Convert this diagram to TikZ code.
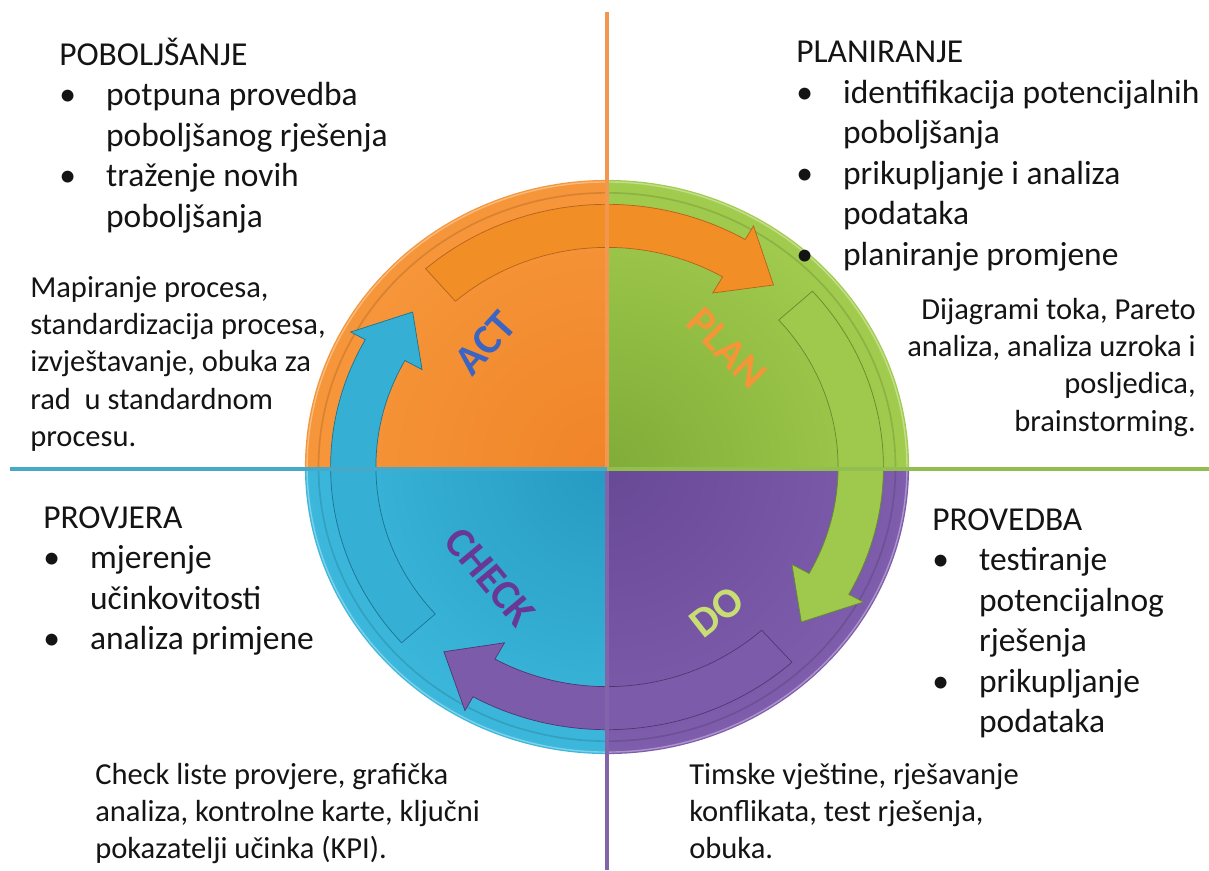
\documentclass[tikz,border=0pt]{standalone}
\usepackage{fontspec}
\setmainfont{Carlito}
\usetikzlibrary{positioning,calc}

\definecolor{actorange}{RGB}{240,132,40}
\definecolor{actrim}{RGB}{246,150,58}
\definecolor{plangreen}{RGB}{128,172,56}
\definecolor{planrim}{RGB}{162,204,78}
\definecolor{dopurple}{RGB}{104,73,150}
\definecolor{dorim}{RGB}{127,93,173}
\definecolor{checkblue}{RGB}{38,154,194}
\definecolor{checkrim}{RGB}{60,184,220}
\definecolor{actline}{RGB}{242,150,80}
\definecolor{planline}{RGB}{146,190,80}
\definecolor{doline}{RGB}{130,100,170}
\definecolor{checkline}{RGB}{72,168,200}
\definecolor{actlabel}{RGB}{60,100,195}
\definecolor{planlabel}{RGB}{244,150,55}
\definecolor{dolabel}{RGB}{200,222,115}
\definecolor{checklabel}{RGB}{105,55,150}

\newcommand{\bigtxt}{\fontsize{23.8pt}{28.8pt}\selectfont}
\newcommand{\smalltxt}{\fontsize{21.7pt}{26.5pt}\selectfont}
\newcommand{\bl}{\makebox[1.4em][l]{\textbullet}}
\newcommand{\ind}{\hspace*{1.4em}}
\newcommand{\topstrut}{\rule{0pt}{0.95em}}

% ring arrow: tail angle, fill, edge
\newcommand{\ringarrow}[3]{%
  \pgfmathsetmacro{\arrbase}{#1-71}%
  \pgfmathsetmacro{\arrtip}{#1-82}%
  \filldraw[fill=#2, draw=#3, line width=0.5pt]
    (#1:0.765) arc[start angle=#1, end angle=\arrbase, radius=0.765]
    -- (\arrbase:0.70) -- (\arrtip:0.84) -- (\arrbase:0.97) -- (\arrbase:0.915)
    arc[start angle=\arrbase, end angle=#1, radius=0.915] -- cycle;}

\begin{document}
\begin{tikzpicture}[x=0.025cm, y=-0.025cm,
    txtblk/.style={anchor=north west, inner sep=0pt, align=left, text=black!92},
    txtright/.style={anchor=north east, inner sep=0pt, align=right, text=black!92},
    lbl/.style={inner sep=0pt, font=\fontsize{30pt}{36pt}\selectfont\bfseries},
    axisline/.style={line width=2.4pt}]
    \useasboundingbox (0,0) rectangle (1209,870);
    \fill[white] (0,0) rectangle (1209,870);

    \coordinate (ctr) at (607,467);
    \coordinate (ntop) at (607,12);
    \coordinate (sbot) at (607,870);
    \coordinate (hmid) at (607,469);
    \coordinate (wend) at (10,469);
    \coordinate (eend) at (1209,469);

    % Quadrants and arrows
    \begin{scope}[shift={(ctr)}, x=7.55cm, y=7.175cm]
        \foreach \a/\ci/\co in {0/plangreen/planrim, 90/actorange/actrim,
                                180/checkblue/checkrim, 270/dopurple/dorim} {
            \begin{scope}
                \clip (0,0) -- (\a:1) arc[start angle=\a, delta angle=90, radius=1] -- cycle;
                \shade[inner color=\ci, outer color=\co] (0,0) circle[radius=1];
            \end{scope}
        }
        \draw[black, opacity=0.12, line width=1.2pt] (0,0) circle[radius=0.955];
        \draw[white, opacity=0.35, line width=1pt] (0,0) circle[radius=0.993];

        \ringarrow{131}{actorange!92!yellow}{actorange!75!black}
        \ringarrow{42}{planrim!90!plangreen}{plangreen!80!black}
        \ringarrow{-48}{dorim!92!dopurple}{dopurple!75!black}
        \ringarrow{-138}{checkrim!70!checkblue}{checkblue!75!black}
    \end{scope}

    % Axis lines
    \draw[axisline, actline] (ctr) -- (ntop);
    \draw[axisline, doline] (ctr) -- (sbot);
    \draw[axisline, checkline] (hmid) -- (wend);
    \draw[axisline, planline] (hmid) -- (eend);

    % Cycle labels
    \node[lbl, text=actlabel, rotate=48] (act) at (485,343) {ACT};
    \node[lbl, text=planlabel, rotate=-45] (plan) at (727,348) {PLAN};
    \node[lbl, text=checklabel, rotate=-50] (check) at (490,577) {CHECK};
    \node[lbl, text=dolabel, rotate=38] (do) at (717,612) {DO};

    % Text blocks
    \node[txtblk, font=\bigtxt] (pob) at (59,33) {\topstrut POBOLJŠANJE\\
        \bl potpuna provedba\\ \ind poboljšanog rješenja\\
        \bl traženje novih\\ \ind poboljšanja};
    \node[txtblk, font=\bigtxt] (planir) at (796,30.7) {\topstrut PLANIRANJE\\
        \bl identifikacija potencijalnih\\ \ind poboljšanja\\
        \bl prikupljanje i analiza\\ \ind podataka\\
        \bl planiranje promjene};
    \node[txtblk, font=\smalltxt] (mapir) at (30,268) {\topstrut Mapiranje procesa,\\
        standardizacija procesa,\\ izvještavanje, obuka za\\
        rad\ \ u standardnom\\ procesu.};
    \node[txtright, font=\smalltxt] (dijag) at (1196,290) {\topstrut Dijagrami toka, Pareto\\
        analiza, analiza uzroka i\\ posljedica,\\ brainstorming.};
    \node[txtblk, font=\bigtxt] (provj) at (43,496.2) {\topstrut PROVJERA\\
        \bl mjerenje\\ \ind učinkovitosti\\ \bl analiza primjene};
    \node[txtblk, font=\bigtxt] (proved) at (932,498.2) {\topstrut PROVEDBA\\
        \bl testiranje\\ \ind potencijalnog\\ \ind rješenja\\
        \bl prikupljanje\\ \ind podataka};
    \node[txtblk, font=\smalltxt] (chklst) at (95,755) {\topstrut Check liste provjere, grafička\\
        analiza, kontrolne karte, ključni\\ pokazatelji učinka (KPI).};
    \node[txtblk, font=\smalltxt] (timske) at (689,755) {\topstrut Timske vještine, rješavanje\\
        konflikata, test rješenja,\\ obuka.};
\end{tikzpicture}
\end{document}
